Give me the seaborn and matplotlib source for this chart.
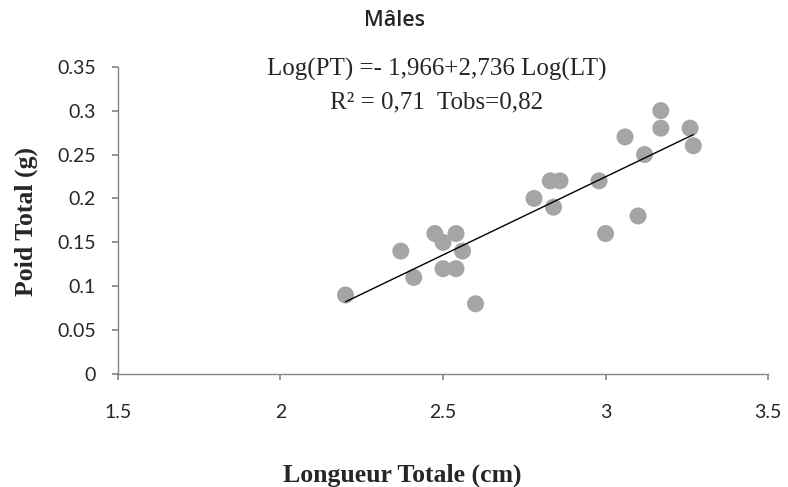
import numpy as np
import pandas as pd
import seaborn as sns
import matplotlib.pyplot as plt

# body length (cm) and total weight (g)
longueur = [2.20, 2.37, 2.41, 2.475, 2.50, 2.54, 2.56, 2.50, 2.54, 2.60,
            2.78, 2.83, 2.84, 2.86, 2.98, 3.00, 3.06, 3.10, 3.12, 3.17,
            3.17, 3.26, 3.27]
poids = [0.09, 0.14, 0.11, 0.16, 0.15, 0.16, 0.14, 0.12, 0.12, 0.08,
         0.20, 0.22, 0.19, 0.22, 0.22, 0.16, 0.27, 0.18, 0.25, 0.30,
         0.28, 0.28, 0.26]
x_ticks = [1.5, 2, 2.5, 3, 3.5]
x_labels = ["1.5", "2", "2.5", "3", "3.5"]
y_ticks = [0, 0.05, 0.1, 0.15, 0.2, 0.25, 0.3, 0.35]
y_labels = ["0", "0.05", "0.1", "0.15", "0.2", "0.25", "0.3", "0.35"]

df = pd.DataFrame({"LT": longueur, "PT": poids})

sns.set_theme(style="ticks", rc={"figure.figsize": (7.88, 4.87)})
plt.rcParams['font.family'] = ['Liberation Serif', 'DejaVu Serif']

fig = plt.figure(dpi=100)
ax = fig.add_axes([0.1497, 0.232, 0.825, 0.631])

sns.scatterplot(data=df, x="LT", y="PT", ax=ax, color="#a5a5a5", s=150,
                edgecolor="none", zorder=2)
sns.regplot(data=df, x="LT", y="PT", ax=ax, scatter=False, ci=None,
            truncate=True, line_kws={"color": "black", "lw": 1, "zorder": 3})

ax.set_xlim(1.5, 3.5)
ax.set_ylim(0, 0.35)
ax.set_xticks(x_ticks)
ax.set_xticklabels(x_labels, family=["Lato", "DejaVu Sans"])
ax.set_yticks(y_ticks)
ax.set_yticklabels(y_labels, family=["Lato", "DejaVu Sans"])
ax.tick_params(labelsize=14, length=4.3, color="#868686")
ax.tick_params(axis="y", pad=11.5)
ax.tick_params(axis="x", pad=17)
sns.despine(ax=ax)
for side in ["left", "bottom"]:
    ax.spines[side].set_color("#868686")
    ax.spines[side].set_linewidth(1)

ax.set_xlabel("Longueur Totale (cm)", fontsize=18.5, fontweight="bold")
ax.set_ylabel("Poid Total (g)", fontsize=18.5, fontweight="bold")
ax.xaxis.set_label_coords(0.438, -0.29)
ax.yaxis.set_label_coords(-0.123, 0.495)

fig.text(0.5, 0.958, "Mâles", ha="center", va="center", fontsize=15.5,
         fontweight="semibold", family=["Open Sans", "DejaVu Sans"])
ax.text(0.49, 0.99, "Log(PT) =- 1,966+2,736 Log(LT)", transform=ax.transAxes,
        ha="center", va="center", fontsize=18)
ax.text(0.49, 0.885, "R² = 0,71  Tobs=0,82", transform=ax.transAxes,
        ha="center", va="center", fontsize=18)

plt.savefig("out.png", format="png", dpi=100)
